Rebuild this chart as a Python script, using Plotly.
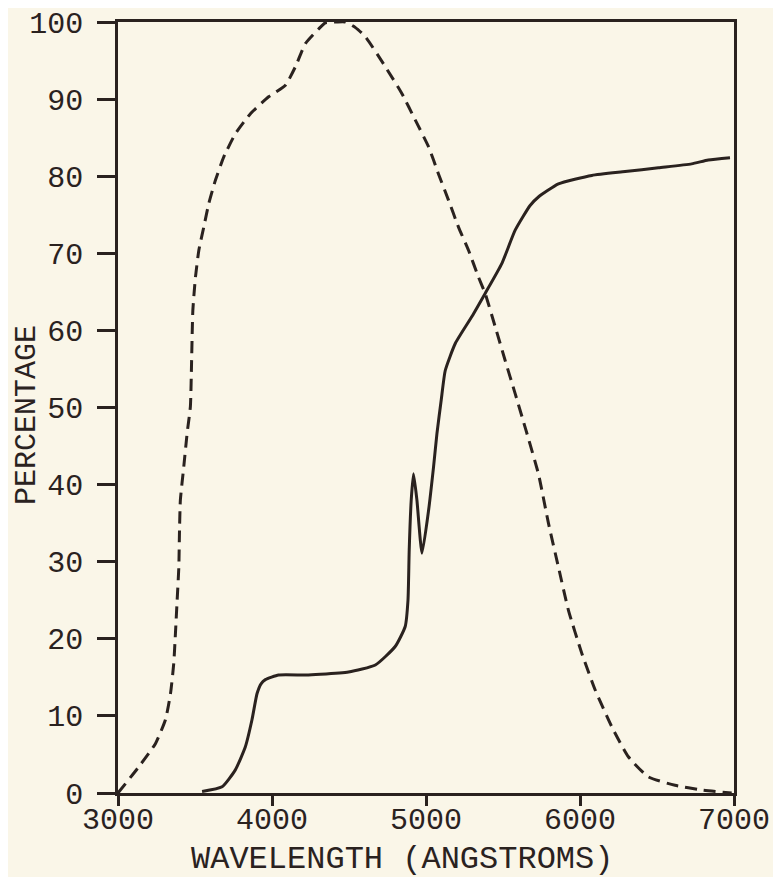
import plotly.graph_objects as go

# Dashed curve
dashed_wl = [3000, 3135, 3243, 3308, 3341, 3362, 3373, 3384, 3395, 3399, 3405, 3427, 3449, 3470,
             3478, 3486, 3503, 3525, 3557, 3590, 3633, 3687, 3762, 3860, 3978, 4087, 4152, 4217, 4303,
             4346, 4420, 4476, 4540, 4606, 4736, 4844, 4930, 5017, 5081, 5146, 5211, 5276, 5341,
             5384, 5449, 5514, 5579, 5650, 5730, 5795, 5860, 5925, 6012, 6098, 6206, 6314, 6444,
             6617, 6790, 6985]
dashed_pct = [0, 3.4, 6.4, 9.5, 12.9, 16.8, 20.7, 25, 29.3, 33.7, 38, 42.3, 46.7, 50.1,
              56.1, 62.6, 66.9, 70.4, 73.4, 76.5, 79.5, 82.5, 85.5, 88.1, 90.3, 91.8, 94.2, 97.2, 99.1,
              99.9, 100, 100, 99.3, 98.1, 94.2, 90.7, 87.3, 83.8, 80.3, 76.9, 73.4, 70.4, 66.9,
              64.8, 60.5, 56.1, 51.8, 47.0, 41.4, 35.0, 29.3, 23.7, 18.1, 13.4, 8.6, 4.7, 2.1,
              1.0, 0.4, 0.0]

# Solid curve
solid_wl = [3546, 3676, 3762, 3827, 3870, 3903, 3930, 3957, 4043, 4217, 4314, 4497, 4671, 4800,
            4865, 4883, 4891, 4904, 4919, 4941, 4974, 5017, 5049, 5071, 5099, 5125, 5190, 5298,
            5384, 5493, 5579, 5676, 5730, 5860, 6077, 6293, 6509, 6725, 6833, 6974]
solid_pct = [0.2, 0.8, 3.0, 6.0, 9.5, 12.9, 14.2, 14.7, 15.3, 15.3, 15.4, 15.7, 16.6, 19.0,
             21.6, 25.0, 31.5, 38.0, 41.4, 38.0, 31.1, 36.7, 42.3, 46.6, 51.0, 54.8, 58.3, 61.8,
             64.8, 68.7, 73.0, 76.2, 77.3, 79.0, 80.1, 80.6, 81.1, 81.6, 82.1, 82.4]

x_ticks = [3000, 4000, 5000, 6000, 7000]
y_ticks = [0, 10, 20, 30, 40, 50, 60, 70, 80, 90, 100]
x_title = "WAVELENGTH (ANGSTROMS)"
y_title = "PERCENTAGE"

INK = "#2a221f"
BG = "#faf6e8"
FONT = "Liberation Mono"

# page body has an 8px margin: figure is drawn at (8, 8)
W, H = 773, 869
ML, MR, MT, MB = 110, 47, 14, 84
PW, PH = W - ML - MR, H - MT - MB

fig = go.Figure()
fig.add_trace(go.Scatter(x=dashed_wl, y=dashed_pct, mode="lines",
                         line=dict(color=INK, width=3, dash="12px,7px", shape="spline", smoothing=0.5),
                         hoverinfo="skip", showlegend=False))
fig.add_trace(go.Scatter(x=solid_wl, y=solid_pct, mode="lines",
                         line=dict(color=INK, width=3, shape="spline", smoothing=0.5),
                         hoverinfo="skip", showlegend=False))

fig.update_layout(
    width=W, height=H,
    margin=dict(l=ML, r=MR, t=MT, b=MB, autoexpand=False),
    paper_bgcolor=BG, plot_bgcolor=BG,
    font=dict(family=FONT, color=INK, size=30),
    xaxis=dict(range=[3000, 7000], tickvals=x_ticks, ticktext=[str(v) for v in x_ticks],
               showgrid=False, zeroline=False, showline=True, linecolor=INK, linewidth=3,
               mirror=True, ticks="outside", ticklen=10, tickwidth=2.5, tickcolor=INK,
               ticklabelstandoff=-13, ticklabeloverflow="allow",
               tickfont=dict(family=FONT, size=30, color=INK), automargin=False),
    yaxis=dict(range=[0, 100], tickvals=y_ticks, ticktext=[str(v) for v in y_ticks],
               showgrid=False, zeroline=False, showline=True, linecolor=INK, linewidth=2.5,
               mirror=True, ticks="outside", ticklen=18, tickwidth=3, tickcolor=INK,
               ticklabelstandoff=8, ticklabeloverflow="allow",
               tickfont=dict(family=FONT, size=30, color=INK), automargin=False),
    annotations=[
        dict(text=x_title, xref="paper", yref="paper", x=(402 - 118) / PW, y=-(860 - 793) / PH,
             xanchor="center", yanchor="middle", showarrow=False,
             font=dict(family=FONT, size=32, color=INK)),
        dict(text=y_title, xref="paper", yref="paper", x=-(118 - 27) / PW, y=(793 - 415) / PH,
             xanchor="center", yanchor="middle", showarrow=False, textangle=-90,
             font=dict(family=FONT, size=30, color=INK)),
    ],
)

fig.write_html("out.html")
